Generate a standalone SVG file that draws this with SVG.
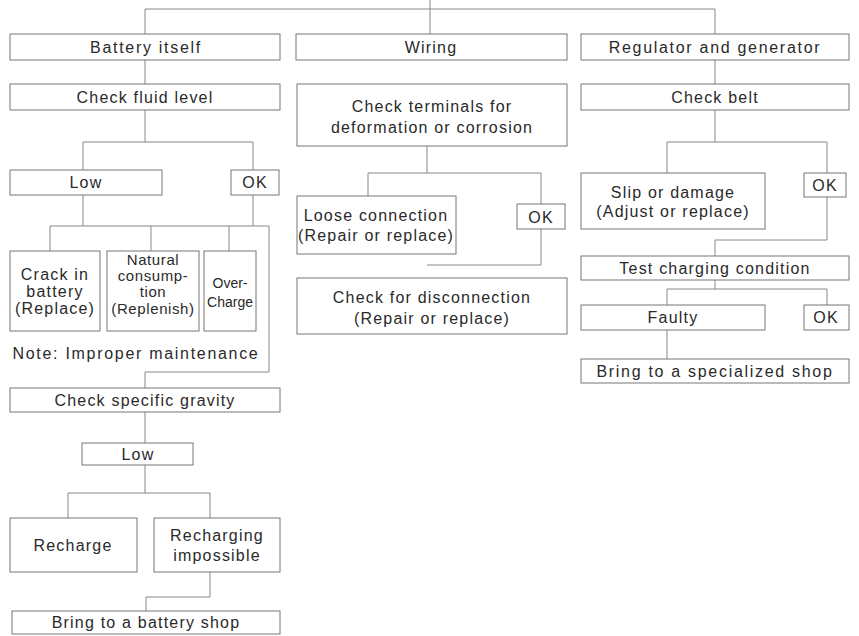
<svg xmlns="http://www.w3.org/2000/svg" width="859" height="636" viewBox="0 0 859 636">
<style>
.b{fill:#fff;stroke:#777;stroke-width:1}
.c{fill:none;stroke:#888;stroke-width:1}
text{font-family:"Liberation Sans",Arial,sans-serif;font-size:16px;fill:#2a2a2a;text-anchor:middle;dominant-baseline:central;letter-spacing:1.2px}
.s{font-size:15px;letter-spacing:0.6px}
.n{font-size:14px;letter-spacing:0px}
.w{letter-spacing:1.7px}
</style>
<rect width="859" height="636" fill="#fff"/>
<g id="connectors">
<path class="c" d="M430 0V34M145 34V9H715V34"/>
<path class="c" d="M145 60V84M715 60V84"/>
<path class="c" d="M145 110V142M83 170V142H253V170"/>
<path class="c" d="M83 195V226M253 195V226M50 251V226H269V372H145V388M151 226V251M229 226V251"/>
<path class="c" d="M145 412V443M145 465V493M68 518V493H210V518"/>
<path class="c" d="M210 572V597H146V611"/>
<path class="c" d="M427 146V173M368 196V173H541V204M541 229V265H427"/>
<path class="c" d="M715 110V142M667 173V142H827V173M827 197V240H715V256"/>
<path class="c" d="M715 280V289M667 305V289H827V305M667 330V359"/>
</g>
<g id="battery-itself"><rect class="b" x="10" y="34" width="270" height="26"/><text class="w" x="146" y="47">Battery itself</text></g>
<g id="wiring"><rect class="b" x="296" y="34" width="271" height="26"/><text x="431" y="47">Wiring</text></g>
<g id="regulator"><rect class="b" x="581" y="34" width="268" height="26"/><text class="w" x="715" y="47">Regulator and generator</text></g>
<g id="check-fluid"><rect class="b" x="10" y="84" width="270" height="26"/><text x="145" y="97">Check fluid level</text></g>
<g id="check-terminals"><rect class="b" x="297" y="84" width="270" height="62"/><text x="432" y="106">Check terminals for</text><text x="432" y="127">deformation or corrosion</text></g>
<g id="check-belt"><rect class="b" x="581" y="84" width="268" height="26"/><text x="715" y="97">Check belt</text></g>
<g id="low1"><rect class="b" x="10" y="170" width="152" height="25"/><text x="86" y="182">Low</text></g>
<g id="ok1"><rect class="b" x="231" y="170" width="48" height="25"/><text x="255" y="182">OK</text></g>
<g id="crack"><rect class="b" x="10" y="251" width="90" height="80"/><text x="55" y="274">Crack in</text><text x="55" y="291">battery</text><text x="55" y="308">(Replace)</text></g>
<g id="natural"><rect class="b" x="107" y="251" width="92" height="80"/><text class="s" x="153" y="259">Natural</text><text class="s" x="153" y="275">consump-</text><text class="s" x="153" y="291">tion</text><text class="s" x="153" y="308">(Replenish)</text></g>
<g id="overcharge"><rect class="b" x="204" y="251" width="52" height="80"/><text class="n" x="230" y="283">Over-</text><text class="n" x="230" y="302">Charge</text></g>
<g id="note"><text class="w" x="136" y="353">Note: Improper maintenance</text></g>
<g id="check-gravity"><rect class="b" x="10" y="388" width="270" height="24"/><text x="145" y="400">Check specific gravity</text></g>
<g id="low2"><rect class="b" x="82" y="443" width="111" height="22"/><text x="138" y="454">Low</text></g>
<g id="recharge"><rect class="b" x="10" y="518" width="127" height="54"/><text x="73" y="545">Recharge</text></g>
<g id="recharging-impossible"><rect class="b" x="154" y="518" width="126" height="54"/><text x="217" y="535">Recharging</text><text x="217" y="555">impossible</text></g>
<g id="battery-shop"><rect class="b" x="12" y="611" width="268" height="23"/><text x="146" y="622">Bring to a battery shop</text></g>
<g id="loose"><rect class="b" x="297" y="196" width="159" height="58"/><text x="376" y="215">Loose connection</text><text x="376" y="235">(Repair or replace)</text></g>
<g id="ok2"><rect class="b" x="517" y="204" width="48" height="25"/><text x="541" y="217">OK</text></g>
<g id="disconnection"><rect class="b" x="297" y="278" width="270" height="56"/><text x="432" y="297">Check for disconnection</text><text x="432" y="318">(Repair or replace)</text></g>
<g id="slip"><rect class="b" x="581" y="173" width="184" height="56"/><text x="673" y="192">Slip or damage</text><text x="673" y="211">(Adjust or replace)</text></g>
<g id="ok3"><rect class="b" x="804" y="173" width="42" height="24"/><text x="825" y="185">OK</text></g>
<g id="test-charging"><rect class="b" x="581" y="256" width="268" height="24"/><text x="715" y="268">Test charging condition</text></g>
<g id="faulty"><rect class="b" x="581" y="305" width="184" height="25"/><text x="673" y="317">Faulty</text></g>
<g id="ok4"><rect class="b" x="804" y="305" width="45" height="25"/><text x="826" y="317">OK</text></g>
<g id="specialized-shop"><rect class="b" x="581" y="359" width="268" height="24"/><text class="w" x="715" y="371">Bring to a specialized shop</text></g>
</svg>
